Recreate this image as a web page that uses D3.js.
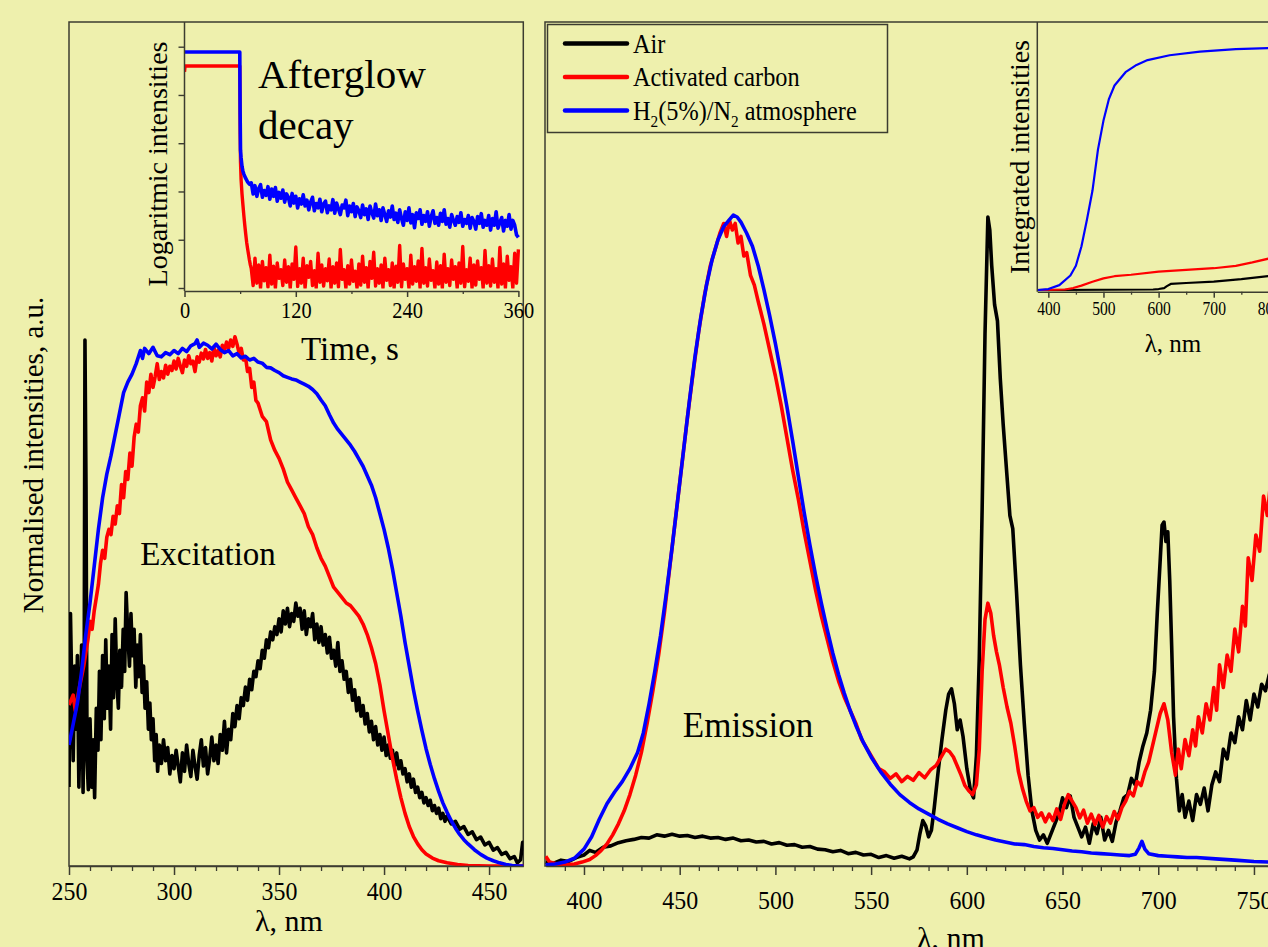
<!DOCTYPE html>
<html>
<head>
<meta charset="utf-8">
<script src="https://cdn.jsdelivr.net/npm/d3@7"></script>
<style>
  body { margin: 0; background: #eef0ad; }
  svg text { font-family: "Liberation Serif", "Times New Roman", serif; fill: #000; }
</style>
</head>
<body>
<svg id="fig" width="1268" height="947"></svg>
<script>
// ---------- data ----------
// excitation spectra, [wavelength nm, normalised intensity]
const excAir = [[250,15],[250.7,48],[251.4,32],[252,20],[252.7,38],[253.4,26],[254,40],[254.7,15],[255.4,30],[256,42],[256.7,14],[257.2,30],[257.6,100],[258.1,72],[258.6,20],[259.2,14.5],[260,28],[260.8,15],[261.5,24],[262.2,13],[263,30],[263.8,22],[264.5,37],[265.2,24],[266,40],[266.8,28],[267.5,43],[268.2,30],[269,38],[269.8,26],[270.5,44],[271.2,32],[272,47],[272.8,35],[273.5,30],[274.2,41],[275,34],[275.8,45],[276.5,37],[277.2,52],[278,44],[278.8,38],[279.5,48],[280.2,40],[281,45],[281.8,34],[282.5,42],[283.2,36],[284,44],[284.8,33],[285.5,38],[286.2,30],[287,35],[287.8,26],[288.5,31],[289.2,24],[290,28],[290.8,20],[291.5,25],[292.2,18],[293,23],[294,19.5],[295,24],[296,20],[297,22.5],[298,17.5],[299,21],[300,18.5],[301,22],[302,19],[303,16],[304,21.5],[305,18],[306,23],[307,19.5],[308,17],[309,22],[310,19],[311,16.5],[312,21],[313,24],[314,19],[315,22.5],[316,17.5],[317,20.5],[318,24.5],[319,20],[320,23],[321,19.5],[322,25],[323,22],[324,27.5],[325,21.5],[326,26],[327,24],[328,29],[329,26.5],[330,30.5],[331,28],[332,32],[333,30.5],[334,34],[335,31.5],[336,35.5],[337,33.5],[338,37],[339,36],[340,39],[341,37.5],[342,41],[343,39.5],[344,43],[345,41.5],[346,44.5],[347,43],[348,45.5],[349,44],[350,47],[351,44.5],[352,48.5],[353,46],[354,49],[355,45.5],[356,48],[357,46.5],[358,50],[359,47.5],[360,49],[361,45],[362,48.5],[363,44],[364,47],[365,45.5],[366,48],[367,43],[368,46],[369,42.5],[370,45.5],[371,42],[372,44],[373,40.5],[374,43.5],[375,39.5],[376,41],[377,38],[378,42.5],[379,37],[380,39],[381,35.5],[382,37],[383,33],[384,35.5],[385,31.5],[386,33.5],[387,29.5],[388,32],[389,28.5],[390,30.5],[391,27],[392,29],[393,25.5],[394,27.5],[395,24],[396,26.5],[397,23],[398,25],[399,22],[400,24.5],[401,21],[402,23],[403,20.5],[404,22],[405,19],[406,21.5],[407,18.5],[408,20],[409,17.5],[410,18.5],[411,16],[412,17.5],[413,15],[414,16.5],[415,14],[416,15],[417,13],[418,14],[419,12],[420,13],[421,11.5],[422,12.5],[423,10.5],[424,11.5],[425,10],[426,11],[427,9],[428,10],[429,8.5],[430,9.5],[432,8],[434,8.5],[436,7],[438,7.5],[440,6],[442,6.5],[444,5],[446,5.5],[448,4],[450,4.5],[452,3],[454,3.5],[456,2.2],[458,2.6],[460,1.4],[462,1.8],[463.5,0.6],[465,1.2],[466,4.5],[467,3]];
const excCarbon = [[250,30.6],[252,32.5],[253,29.5],[255,34],[257,38],[259,43],[260,46.5],[261,45],[262,48.5],[263,51],[264,53.5],[265,57.5],[266,60],[267,58.5],[268,62.5],[269,64],[270,63],[271,66.5],[272,65],[273,68.5],[274,67],[275,72.5],[276,70],[277,75],[278,73.5],[279,78.5],[280,76],[281,81.5],[282,84],[283,82.5],[284,87.5],[285,89],[286,86.5],[287,92],[288,90],[289,93.5],[290,91],[291,93],[292,95.5],[293,92.5],[294,94],[295,92.8],[296,95.2],[297,93.5],[298,95],[299,94.2],[300,96],[301,94.5],[302,96.5],[303,95],[304,93.8],[305,96.2],[306,95],[307,97],[308,95.5],[309,96],[310,94],[311,96.8],[312,95.8],[313,97.5],[314,96.4],[315,98.2],[316,96.5],[317,97.6],[318,96],[319,98.6],[320,97],[321,98],[322,96.8],[323,99],[324,98],[325,99.6],[326,98.4],[327,100],[328,98.8],[329,100.6],[330,99.2],[331,97.5],[332,98.4],[333,96.2],[334,96.8],[335,94],[336,94.6],[337,91],[338,92],[339,88.5],[340,88],[342,85.5],[344,84.5],[346,81],[348,79],[350,77.5],[352,75.5],[354,73],[356,71.5],[358,70],[360,68.5],[362,67],[364,64.5],[366,63],[368,60.5],[370,58.5],[372,57],[374,55],[376,53],[378,52],[380,51],[382,50],[384,49.5],[386,48.5],[388,47.5],[390,46],[392,44],[394,41.5],[396,38.5],[398,34.5],[400,29.5],[402,25],[404,20.5],[406,16.5],[408,13],[410,10],[412,7.5],[414,5.6],[416,4.2],[418,3.1],[420,2.3],[423,1.5],[426,1],[430,0.6],[435,0.3],[440,0.1],[450,0],[467,0]];
const excH2 = [[250,23],[252,27],[254,31],[256,37],[258,44],[260,50],[262,57],[264,64],[266,70],[268,74.5],[270,78],[272,82],[274,86],[276,90],[278,92],[280,93.5],[282,95.5],[284,98],[285,96.5],[286,98.4],[288,97.4],[290,98.6],[292,97],[294,96.8],[296,97.6],[298,97.2],[300,98],[302,97.4],[304,98.4],[306,97.8],[308,98.9],[310,99.3],[311,100],[312,98.6],[314,99.4],[316,99],[318,98.3],[320,99.2],[322,98.2],[324,97.6],[326,98],[328,97],[330,97.4],[332,96.6],[334,96.9],[336,96.2],[338,96.5],[340,95.8],[342,95.6],[344,94.8],[346,94.7],[348,94.2],[350,93.8],[352,93.2],[354,92.9],[356,92.6],[358,92.4],[360,92],[362,91.6],[364,91.2],[366,90.6],[368,89.8],[370,88.6],[372,87.5],[374,85.8],[376,84.2],[378,83],[380,82],[382,81],[384,80],[386,78.8],[388,77.4],[390,76],[392,74.2],[394,72.4],[396,70],[398,67],[400,64],[402,60.5],[404,56.5],[406,52],[408,47.5],[410,42.5],[412,38],[414,33.5],[416,29.5],[418,25.8],[420,22.3],[422,19.3],[424,16.6],[426,14.2],[428,12],[430,10.2],[432,8.6],[434,7.2],[436,6],[438,5],[440,4.2],[443,3.1],[446,2.2],[449,1.5],[452,1],[455,0.6],[458,0.3],[461,0.1],[464,0],[467,0]];

// emission spectra, [wavelength nm, normalised intensity]
const emAir = [[380,0.6],[384,0.4],[388,0.9],[392,0.7],[396,1.3],[400,1.7],[403,2.4],[406,2.1],[410,2.9],[414,3.1],[418,3.6],[422,3.9],[426,4.1],[430,4.4],[434,4.3],[438,4.8],[442,4.6],[446,4.9],[450,4.6],[454,4.7],[458,4.4],[462,4.6],[466,4.3],[470,4.4],[474,4.1],[478,4.3],[482,3.9],[486,4],[490,3.7],[494,3.8],[498,3.4],[502,3.6],[506,3.2],[510,3.3],[514,2.9],[518,3],[522,2.6],[526,2.5],[530,2.2],[534,2.4],[538,1.9],[542,2.1],[546,1.7],[550,1.8],[554,1.3],[558,1.6],[562,1.2],[566,1.5],[570,1.1],[572,1.4],[574,2.5],[575.5,5],[577,7],[578.5,6.2],[580,4.5],[581.5,5.5],[583,9],[585,14.5],[587,19.5],[589,24],[590.5,26.5],[592,27.3],[593.5,25],[595,21],[596.5,22.5],[598,20],[600,15],[602,11.5],[603.5,10.5],[605,17],[606.5,32],[608,55],[609.5,82],[611,100],[612,98],[613,92.5],[614.5,86.5],[616,84],[617.5,75],[619,68],[621,60],[622.5,54],[624,52],[626,42],[628,31],[630,22],[632,14],[634,8.5],[636,5.5],[638,4],[640,4.8],[642,3.5],[644,5],[646,6.5],[648,8],[650,10.5],[652,9],[654,10.8],[656,7.5],[658,6],[660,4.5],[662,6],[664,3.5],[666,6.5],[668,5],[670,7.5],[672,4],[674,5.5],[676,3.8],[678,6.8],[680,8.5],[682,10.5],[684,11],[686,13.5],[688,12.5],[690,16],[692,18.5],[694,20.5],[696,24],[698,30],[699.5,39],[701,47],[702,52.5],[703,53],[704,50],[705,51.5],[706,44],[707,34],[708,23],[709.5,13.5],[711,8.5],[712.5,11],[714,7.5],[716,10],[718,7],[720,11],[722,9.5],[724,12],[726,8.5],[728,12.5],[730,14.5],[732,13],[734,18],[736,16.5],[738,20.5],[740,19],[742,23],[744,21],[746,25.5],[748,22.5],[750,26.5],[752,24.5],[754,28],[756,27],[758,29.5],[760,28.5]];
const emCarbon = [[380,1.5],[382,0.6],[386,0.3],[390,0.2],[395,0.3],[399,0.6],[403,1],[406,1.6],[409,2.4],[412,3.4],[415,4.8],[418,6.5],[421,8.5],[424,11],[427,14],[430,17.5],[433,22],[436,27],[439,32.5],[442,39],[445,46.5],[448,54],[451,61.5],[454,69],[457,76],[460,82.5],[463,88],[466,92.5],[469,95.5],[471,97.5],[473,99],[474.5,97],[476,99.5],[477.5,98],[479,99],[480.5,96],[482,97],[483.5,94],[485,94.5],[487,91],[489,89.5],[491,87],[494,83.5],[497,79.5],[500,75.5],[503,71],[506,66],[509,61],[512,56.5],[515,51.5],[518,47],[521,42.5],[524,38.5],[527,35],[530,31.5],[533,28.5],[536,26],[539,24],[542,22],[545,19.5],[548,18],[551,16.5],[554,15],[557,14.5],[560,13.5],[563,14.2],[566,13],[569,13.8],[572,13.2],[575,14.4],[578,13.6],[581,14.8],[584,15.5],[587,17],[589,18],[591,17.6],[593,16.8],[595,15.4],[597,14],[599,12.4],[601,11.6],[603,11],[605,12.5],[606.5,18],[608,30],[609.5,38],[611,40.5],[612.5,39],[614,35.5],[615.5,33],[617,31],[619,27.5],[621,24.5],[623,22],[625,18.5],[627,14.5],[629,12],[631,10],[633,8.5],[635,9],[637,7.5],[639,8.2],[641,6.8],[643,8],[645,7],[647,8.8],[649,7.2],[651,9.5],[653,11],[655,10],[657,9],[659,7.4],[661,8.6],[663,6.6],[665,8],[667,6.4],[669,7.8],[671,6],[673,7.6],[675,6.6],[677,8.4],[679,7.2],[681,9],[683,10],[685,11.5],[687,10.8],[689,13],[691,12.4],[693,14.5],[695,16],[697,18.5],[699,21],[701,23.5],[703,25],[705,22.5],[707,17.5],[709,14],[710.5,18],[712,15],[714,19.5],[716,17],[718,21],[719.5,18.5],[721,23],[723,20.5],[725,25],[727,22.5],[729,27.5],[730.5,24],[732,31],[734,27.5],[736,32.5],[738,30],[740,36.5],[742,33],[744,40],[745.5,37],[747,47.5],[749,44],[751,51],[753,48.5],[755,57],[757,54],[759,60]];
const emH2 = [[380,0.2],[385,0.3],[390,0.6],[395,1.2],[400,2.6],[404,4.5],[408,7.2],[412,9.6],[416,11.4],[420,13],[424,15],[428,17.5],[431,20.5],[434,25],[437,30],[440,35.5],[443,42],[446,49],[449,56.5],[452,64],[455,71.5],[458,78.5],[461,84.5],[464,89.5],[467,93.5],[470,96.5],[473,98.5],[476,99.6],[478,100.3],[480,100],[482,99.2],[485,97.5],[488,95.5],[491,92.5],[494,88.8],[497,84.8],[500,80.5],[503,75.8],[506,70.8],[509,65.5],[512,60],[515,54.5],[518,49.5],[521,44.8],[524,40.5],[527,36.5],[530,32.8],[533,29.5],[536,26.6],[539,24],[542,21.7],[546,19],[550,16.8],[555,14.5],[560,12.6],[565,11],[570,9.8],[575,8.8],[580,8],[585,7.2],[590,6.5],[595,5.9],[600,5.3],[605,4.8],[610,4.4],[615,4],[620,3.7],[625,3.4],[630,3.3],[635,3],[640,2.8],[645,2.7],[650,2.5],[655,2.3],[660,2.2],[665,2],[670,1.9],[675,1.8],[680,1.7],[685,1.6],[688,1.8],[690,2.8],[691.5,3.8],[693,2.6],[695,1.9],[700,1.6],[705,1.5],[710,1.4],[715,1.3],[720,1.3],[730,1.1],[740,0.9],[750,0.7],[760,0.6]];

// afterglow decay (log intensity), [time s, value]; tails sampled every 2 s
const decayH2Head = [[0,4.89],[59.6,4.89],[60,3.6],[60.4,2.85],[61,2.7],[62,2.52],[63,2.42],[64,2.36],[66,2.27],[68,2.2],[70,2.15]];
const decayH2Tail = [2.18,1.95,2.12,1.90,2.06,2.14,1.88,2.02,1.92,2.10,
  1.84,2.05,1.90,2.08,1.80,1.98,1.86,2.03,1.78,1.95,
  1.88,1.70,1.96,1.76,1.90,1.66,1.85,1.74,1.93,1.70,
  1.82,1.62,1.78,1.88,1.60,1.75,1.66,1.84,1.58,1.74,
  1.80,1.56,1.70,1.62,1.83,1.55,1.76,1.64,1.52,1.72,
  1.66,1.82,1.50,1.70,1.58,1.75,1.48,1.68,1.60,1.46,
  1.72,1.52,1.64,1.42,1.70,1.56,1.45,1.74,1.50,1.62,
  1.40,1.66,1.52,1.38,1.60,1.47,1.70,1.42,1.55,1.36,
  1.62,1.44,1.30,1.58,1.40,1.66,1.35,1.52,1.25,1.56,
  1.44,1.62,1.32,1.50,1.38,1.58,1.28,1.48,1.60,1.34,
  1.46,1.30,1.55,1.38,1.62,1.32,1.44,1.26,1.52,1.40,
  1.30,1.48,1.36,1.56,1.28,1.42,1.34,1.50,1.24,1.46,
  1.38,1.22,1.48,1.34,1.54,1.26,1.40,1.30,1.50,1.20,
  1.44,1.30,1.58,1.24,1.36,1.46,1.18,1.40,1.28,1.52,
  1.22,1.40,1.30,1.10,1.05];
const decayCarbonHead = [[0,4.48],[0.6,4.6],[59.6,4.6],[60,3.2],[60.4,2.6],[61,2.25],[62,1.95],[63,1.72],[64,1.5],[65,1.3],[66,1.12],[67,0.95],[68,0.82],[69,0.7],[70,0.58],[71,0.48],[72,0.4]];
const decayCarbonTail = [0.05,0.62,0.10,0.48,0.0,0.55,0.15,0.42,0.02,0.68,
  0.08,0.45,0.0,0.52,0.20,0.38,0.05,0.58,0.12,0.44,
  0.0,0.50,0.18,0.85,0.03,0.40,0.10,0.62,0.0,0.46,
  0.22,0.55,0.05,0.36,0.0,0.72,0.12,0.48,0.04,0.40,
  0.15,0.60,0.0,0.44,0.10,0.52,0.02,0.80,0.18,0.38,
  0.0,0.46,0.08,0.58,0.14,0.35,0.0,0.50,0.06,0.66,
  0.12,0.42,0.0,0.55,0.20,0.74,0.04,0.40,0.10,0.48,
  0.0,0.62,0.16,0.38,0.05,0.52,0.0,0.45,0.12,0.88,
  0.02,0.50,0.18,0.40,0.0,0.68,0.08,0.44,0.14,0.56,
  0.0,0.82,0.10,0.42,0.04,0.60,0.16,0.36,0.0,0.54,
  0.08,0.46,0.0,0.70,0.12,0.40,0.05,0.58,0.18,0.44,
  0.0,0.52,0.10,0.86,0.02,0.38,0.14,0.62,0.0,0.48,
  0.06,0.56,0.18,0.42,0.0,0.78,0.10,0.46,0.04,0.60,
  0.12,0.40,0.0,0.84,0.08,0.50,0.0,0.66,0.16,0.44,
  0.0,0.72,0.10,0.80];

// integrated intensities inset, [wavelength nm, fraction]
const intAir = [[380,0],[590,0.002],[600,0.004],[610,0.008],[615,0.016],[622,0.025],[650,0.029],[700,0.035],[750,0.045],[800,0.058]];
const intCarbon = [[380,0],[430,0.002],[445,0.008],[460,0.018],[480,0.034],[500,0.048],[520,0.057],[550,0.063],[600,0.076],[650,0.083],[700,0.09],[740,0.1],[770,0.114],[800,0.13]];
const intH2 = [[380,0],[400,0.004],[420,0.02],[440,0.06],[450,0.1],[460,0.18],[470,0.29],[480,0.41],[490,0.58],[500,0.70],[510,0.79],[520,0.845],[540,0.9],[560,0.93],[580,0.95],[620,0.97],[675,0.985],[740,0.995],[800,1.0]];

const excTicks = [250, 300, 350, 400, 450];
const emTicks = [400, 450, 500, 550, 600, 650, 700, 750];
const decayTicks = [0, 120, 240, 360];
const intTicks = [400, 500, 600, 700, 800];
const legendLabels = ["Air", "Activated carbon", "H_2(5%)/N_2 atmosphere"];
const seriesColors = ["#000000", "#ff0000", "#0000ff"];

// ---------- drawing ----------
const svg = d3.select("#fig");
const bg = "#eef0ad";
const frameColor = "#3c3c30";
svg.append("rect").attr("width", 1268).attr("height", 947).attr("fill", bg);

const defs = svg.append("defs");
function clip(id, x, y, w, h) {
  defs.append("clipPath").attr("id", id).append("rect").attr("x", x).attr("y", y).attr("width", w).attr("height", h);
  return `url(#${id})`;
}

function drawLine(g, data, x, y, color, w) {
  g.append("path").datum(data)
    .attr("fill", "none")
    .attr("stroke", color)
    .attr("stroke-width", w)
    .attr("stroke-linejoin", "round")
    .attr("d", d3.line().x(d => x(d[0])).y(d => y(d[1])));
}

function xAxis(y, scale, major, minor, bigTick, smallTick, pad, fontSize, squeeze) {
  const g = svg.append("g").attr("transform", `translate(0,${y})`);
  g.call(d3.axisBottom(scale).tickValues(major).tickSize(bigTick).tickSizeOuter(0).tickPadding(pad).tickFormat(d3.format("d")));
  g.select(".domain").attr("stroke", frameColor).attr("stroke-width", 1.5);
  g.selectAll(".tick line").attr("stroke", frameColor).attr("stroke-width", 1.5);
  g.selectAll(".tick text").attr("font-size", fontSize).attr("font-family", null)
    .attr("fill", "#000").attr("transform", `scale(${squeeze},1)`);
  const m = svg.append("g").attr("transform", `translate(0,${y})`);
  m.call(d3.axisBottom(scale).tickValues(minor).tickSize(smallTick).tickFormat(""));
  m.select(".domain").remove();
  m.selectAll(".tick line").attr("stroke", frameColor).attr("stroke-width", 1.3);
  return g;
}

// ===== left panel: excitation =====
const xExc = d3.scaleLinear().domain([250, 466.3]).range([69, 523.3]);
const yExc = d3.scaleLinear().domain([0, 100]).range([866, 340]);

svg.append("rect").attr("x", 69).attr("y", 22).attr("width", 523.3 - 69).attr("height", 866 - 22)
  .attr("fill", "none").attr("stroke", frameColor).attr("stroke-width", 1.5);

const excG = svg.append("g").attr("clip-path", clip("clipExc", 69, 22, 454.3, 844));
[excAir, excCarbon, excH2].forEach((s, i) => drawLine(excG, s, xExc, yExc, seriesColors[i], 3.6));

xAxis(866, xExc, excTicks, d3.range(260, 466, 10).filter(v => v % 50), 9, 5, 7, 26, 0.92);

svg.append("text").attr("x", 289).attr("y", 931).attr("text-anchor", "middle").attr("font-size", 30).text("λ, nm");
svg.append("text").attr("x", 208).attr("y", 565).attr("text-anchor", "middle").attr("font-size", 33).text("Excitation");
svg.append("text").attr("transform", "translate(43,455) rotate(-90)").attr("text-anchor", "middle")
  .attr("font-size", 29).text("Normalised intensities, a.u.");

// ===== afterglow inset =====
const xDec = d3.scaleLinear().domain([0, 360]).range([184.5, 518.4]);
const yDec = d3.scaleLinear().domain([0, 5]).range([288, 46.7]);
const decH2 = decayH2Head.concat(decayH2Tail.map((v, i) => [72 + 2 * i, v]));
const decCarbon = decayCarbonHead.concat(decayCarbonTail.map((v, i) => [74 + 2 * i, v]));

const decG = svg.append("g").attr("clip-path", clip("clipDec", 184.5, 22, 336, 266.5));
drawLine(decG, decCarbon, xDec, yDec, "#ff0000", 3.4);
drawLine(decG, decH2, xDec, yDec, "#0000ff", 3.6);

svg.append("line").attr("x1", 184.5).attr("x2", 184.5).attr("y1", 22).attr("y2", 291)
  .attr("stroke", frameColor).attr("stroke-width", 1.5);
const yDecAxis = svg.append("g").attr("transform", "translate(184.5,0)")
  .call(d3.axisLeft(yDec).tickValues([0, 1, 2, 3, 4, 5]).tickSize(6).tickFormat(""));
yDecAxis.select(".domain").remove();
yDecAxis.selectAll(".tick line").attr("stroke", frameColor).attr("stroke-width", 1.4);
xAxis(291, xDec, decayTicks, [60, 180, 300], 6, 3, 4, 24, 0.85);

svg.append("text").attr("transform", "translate(167,164) rotate(-90)").attr("text-anchor", "middle")
  .attr("font-size", 28).text("Logaritmic intensities");
svg.append("text").attr("x", 258).attr("y", 88).attr("font-size", 41).text("Afterglow");
svg.append("text").attr("x", 258).attr("y", 139).attr("font-size", 41).text("decay");
svg.append("text").attr("x", 350).attr("y", 360).attr("text-anchor", "middle").attr("font-size", 33).text("Time, s");

// ===== right panel: emission =====
const xEm = d3.scaleLinear().domain([380, 760]).range([545.7, 1273.1]);
const yEm = d3.scaleLinear().domain([0, 100]).range([866, 217]);

svg.append("rect").attr("x", 545).attr("y", 22).attr("width", 800).attr("height", 844)
  .attr("fill", "none").attr("stroke", frameColor).attr("stroke-width", 1.5);

const emG = svg.append("g").attr("clip-path", clip("clipEm", 545, 22, 800, 844));
[emAir, emCarbon, emH2].forEach((s, i) => drawLine(emG, s, xEm, yEm, seriesColors[i], 3.6));

xAxis(866, xEm, emTicks, d3.range(390, 761, 10).filter(v => v % 50), 9, 5, 16, 26, 0.92);

svg.append("text").attr("x", 951).attr("y", 948).attr("text-anchor", "middle").attr("font-size", 30).text("λ, nm");
svg.append("text").attr("x", 748).attr("y", 737).attr("text-anchor", "middle").attr("font-size", 35).text("Emission");

// legend
const leg = svg.append("g");
leg.append("rect").attr("x", 547.5).attr("y", 24.5).attr("width", 340).attr("height", 108)
  .attr("fill", "none").attr("stroke", frameColor).attr("stroke-width", 1.5);
legendLabels.forEach((label, i) => {
  const y = 43.5 + i * 33.5;
  leg.append("line").attr("x1", 565).attr("x2", 627).attr("y1", y).attr("y2", y)
    .attr("stroke", seriesColors[i]).attr("stroke-width", 4.5).attr("stroke-linecap", "round");
  const t = leg.append("text").attr("transform", `translate(633,${y + 9}) scale(0.9,1)`).attr("font-size", 27);
  const parts = label.split(/_(\d)/);
  parts.forEach((p, j) => {
    if (!p) return;
    if (j % 2 === 1) {
      t.append("tspan").attr("font-size", 17).attr("dy", 7).text(p);
    } else {
      t.append("tspan").attr("dy", j > 0 ? -7 : 0).text(p);
    }
  });
});

// ===== integrated intensity inset =====
const xInt = d3.scaleLinear().domain([380, 800]).range([1037.3, 1268.9]);
const yInt = d3.scaleLinear().domain([0, 1]).range([290, 48]);
const intG = svg.append("g").attr("clip-path", clip("clipInt", 1037.3, 22, 240, 269));
[intAir, intCarbon, intH2].forEach((s, i) => drawLine(intG, s, xInt, yInt, seriesColors[i], 2.2));

svg.append("line").attr("x1", 1037.3).attr("x2", 1037.3).attr("y1", 22).attr("y2", 291.7)
  .attr("stroke", frameColor).attr("stroke-width", 1.5);
xAxis(291.7, xInt, intTicks, [450, 550, 650, 750], 6, 3, 4, 19, 0.82);

svg.append("text").attr("x", 1173).attr("y", 352).attr("text-anchor", "middle").attr("font-size", 25).text("λ, nm");
svg.append("text").attr("transform", "translate(1029,157) rotate(-90)").attr("text-anchor", "middle")
  .attr("font-size", 28).text("Integrated intensities");
</script>
</body>
</html>
